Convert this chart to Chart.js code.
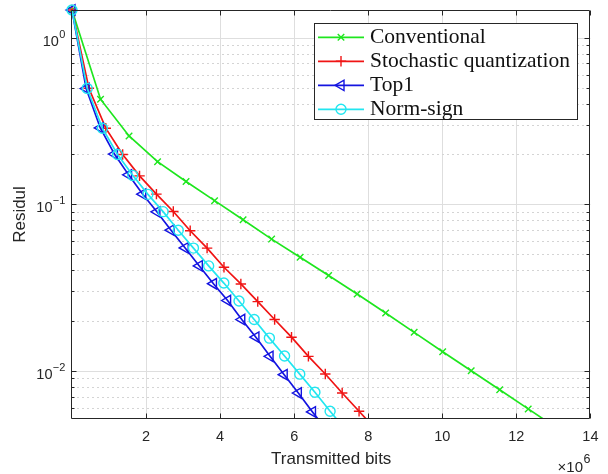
<!DOCTYPE html>
<html><head><meta charset="utf-8">
<script src="https://cdn.jsdelivr.net/npm/chart.js@4.4.1/dist/chart.umd.min.js"></script>
<style>html,body{margin:0;padding:0;background:#fff;}canvas{display:block;}</style>
</head><body>
<canvas id="c" width="608" height="474"></canvas>
<script>
// ---- data (x in units of 10^6 transmitted bits) ----
const seriesNames = ['Conventional', 'Stochastic quantization', 'Top1', 'Norm-sign'];

const conventionalX = [0, 0.77, 1.54, 2.31, 3.08, 3.85, 4.62, 5.39, 6.16, 6.93, 7.70, 8.47, 9.24, 10.01, 10.78, 11.55, 12.32, 13.09];
const conventionalY = [1.466, 0.427, 0.257, 0.180, 0.137, 0.105, 0.0806, 0.0617, 0.0480, 0.0373, 0.0289, 0.0222, 0.0170, 0.0130, 0.0100, 0.00769, 0.0059, 0.00453];

const stochasticX = [0, 0.456, 0.912, 1.368, 1.824, 2.28, 2.736, 3.192, 3.648, 4.104, 4.56, 5.016, 5.472, 5.928, 6.384, 6.84, 7.296, 7.752, 8.208];
const stochasticY = [1.466, 0.497, 0.286, 0.199, 0.148, 0.1150, 0.0904, 0.0693, 0.0545, 0.0418, 0.0332, 0.0260, 0.0203, 0.0159, 0.0122, 0.00956, 0.00735, 0.00571, 0.00443];

const top1X = [0, 0.382, 0.764, 1.146, 1.528, 1.91, 2.292, 2.674, 3.056, 3.438, 3.82, 4.202, 4.584, 4.966, 5.348, 5.73, 6.112, 6.494, 6.876];
const top1Y = [1.466, 0.495, 0.287, 0.200, 0.150, 0.1148, 0.0900, 0.0698, 0.0546, 0.0426, 0.0333, 0.0264, 0.0203, 0.0159, 0.0122, 0.00947, 0.00735, 0.00566, 0.00440];

const normSignX = [0, 0.41, 0.82, 1.23, 1.64, 2.05, 2.46, 2.87, 3.28, 3.69, 4.1, 4.51, 4.92, 5.33, 5.74, 6.15, 6.56, 6.97, 7.38];
const normSignY = [1.466, 0.496, 0.286, 0.199, 0.149, 0.1146, 0.0902, 0.0697, 0.0545, 0.0426, 0.0336, 0.0262, 0.0203, 0.0157, 0.01225, 0.00954, 0.00743, 0.00571, 0.00444];

const xTickValues = [2, 4, 6, 8, 10, 12, 14];
const yDecadeValues = [1, 0.1, 0.01];
const yDecadeExponents = ['0', '\u22121', '\u22122'];
const yMinorValues = [0.006, 0.007, 0.008, 0.009, 0.02, 0.03, 0.04, 0.05, 0.06, 0.07, 0.08, 0.09,
                      0.2, 0.3, 0.4, 0.5, 0.6, 0.7, 0.8, 0.9];
const xRange = [0, 14];
const yRange = [0.00513, 1.466];
const xTitle = 'Transmitted bits';
const yTitle = 'Residul';
const xScaleBase = '\u00d710';
const xScaleExp = '6';

// ---- styles ----
const SANS = '"Liberation Sans", Arial, Helvetica, sans-serif';
const SERIF = '"Liberation Serif", "Times New Roman", serif';
const AX = '#262626';
const styles = [
  {color: '#1ee61e', pointStyle: 'crossRot', radius: 4.6, rotation: 0},
  {color: '#f01414', pointStyle: 'cross', radius: 5.2, rotation: 0},
  {color: '#1414e0', pointStyle: 'triangle', radius: 6, rotation: -90},
  {color: '#22e6f0', pointStyle: 'circle', radius: 5, rotation: 0}
];
const series = [
  [conventionalX, conventionalY],
  [stochasticX, stochasticY],
  [top1X, top1Y],
  [normSignX, normSignY]
];

const datasets = series.map((s, i) => ({
  label: seriesNames[i],
  data: s[0].map((x, j) => ({x: x, y: s[1][j]})),
  borderColor: styles[i].color,
  backgroundColor: 'rgba(0,0,0,0)',
  pointBorderColor: styles[i].color,
  pointBackgroundColor: 'rgba(0,0,0,0)',
  pointStyle: styles[i].pointStyle,
  pointRadius: styles[i].radius,
  pointRotation: styles[i].rotation,
  pointBorderWidth: 1.4,
  borderWidth: 1.7,
  tension: 0,
  order: 4 - i,
  clip: {left: 10, top: 10, right: 0, bottom: 0}
}));

function drawMarker(ctx, st, x, y) {
  ctx.save();
  ctx.strokeStyle = st.color; ctx.lineWidth = 1.4; ctx.setLineDash([]);
  const r = st.radius;
  ctx.beginPath();
  if (st.pointStyle === 'crossRot') {
    const d = r * Math.SQRT1_2;
    ctx.moveTo(x - d, y - d); ctx.lineTo(x + d, y + d);
    ctx.moveTo(x - d, y + d); ctx.lineTo(x + d, y - d);
  } else if (st.pointStyle === 'cross') {
    ctx.moveTo(x, y - r); ctx.lineTo(x, y + r);
    ctx.moveTo(x - r, y); ctx.lineTo(x + r, y);
  } else if (st.pointStyle === 'triangle') {
    let rad = st.rotation * Math.PI / 180;
    for (let k = 0; k < 3; k++) {
      const px = x + Math.sin(rad) * r, py = y - Math.cos(rad) * r;
      if (k === 0) ctx.moveTo(px, py); else ctx.lineTo(px, py);
      rad += 2 * Math.PI / 3;
    }
    ctx.closePath();
  } else {
    ctx.arc(x, y, r, 0, Math.PI * 2);
  }
  ctx.stroke();
  ctx.restore();
}

const matlabAxes = {
  id: 'matlabAxes',
  beforeDatasetsDraw(chart) {
    const {ctx, chartArea: a, scales: {y}} = chart;
    ctx.save();
    ctx.lineWidth = 1;
    ctx.strokeStyle = '#d4d4d4';
    ctx.setLineDash([2, 3]);
    yMinorValues.forEach(v => {
      const py = Math.round(y.getPixelForValue(v)) + 0.5;
      ctx.beginPath(); ctx.moveTo(a.left, py); ctx.lineTo(a.right, py); ctx.stroke();
    });
    ctx.setLineDash([]);
    ctx.strokeStyle = '#dedede';
    yDecadeValues.forEach(v => {
      const py = Math.round(y.getPixelForValue(v)) + 0.5;
      ctx.beginPath(); ctx.moveTo(a.left, py); ctx.lineTo(a.right, py); ctx.stroke();
    });
    ctx.restore();
  },
  afterDatasetsDraw(chart) {
    const {ctx, chartArea: a, scales: {x, y}} = chart;
    ctx.save();
    ctx.setLineDash([]);
    ctx.strokeStyle = AX; ctx.lineWidth = 1;
    const L = Math.round(a.left) - 0.5, R = Math.round(a.right) - 0.5;
    const T = Math.round(a.top) + 0.5, B = Math.round(a.bottom) - 0.5;
    ctx.beginPath(); ctx.rect(L, T, R - L, B - T); ctx.stroke();
    // ticks (inside)
    ctx.beginPath();
    xTickValues.forEach(v => {
      const px = Math.round(x.getPixelForValue(v)) + 0.5;
      ctx.moveTo(px, B); ctx.lineTo(px, B - 5);
      ctx.moveTo(px, T); ctx.lineTo(px, T + 5);
    });
    yDecadeValues.forEach(v => {
      const py = Math.round(y.getPixelForValue(v)) + 0.5;
      ctx.moveTo(L, py); ctx.lineTo(L + 5, py);
      ctx.moveTo(R, py); ctx.lineTo(R - 5, py);
    });
    yMinorValues.forEach(v => {
      const py = Math.round(y.getPixelForValue(v)) + 0.5;
      ctx.moveTo(L, py); ctx.lineTo(L + 3, py);
      ctx.moveTo(R, py); ctx.lineTo(R - 3, py);
    });
    ctx.stroke();
    // y tick labels 10^k
    ctx.fillStyle = AX; ctx.textAlign = 'left'; ctx.textBaseline = 'alphabetic';
    const bigF = '14.5px ' + SANS, supF = '11px ' + SANS;
    yDecadeValues.forEach((v, i) => {
      const py = y.getPixelForValue(v);
      ctx.font = bigF; const w1 = ctx.measureText('10').width;
      ctx.font = supF; const w2 = ctx.measureText(yDecadeExponents[i]).width;
      const x0 = 65 - w1 - w2;
      ctx.font = bigF; ctx.fillText('10', x0, py + 8.2);
      ctx.font = supF; ctx.fillText(yDecadeExponents[i], x0 + w1 + 0.3, py + 0.3);
    });
    // x10^6 multiplier
    ctx.font = '12.5px ' + SANS;
    const we = ctx.measureText(xScaleExp).width;
    const ex = a.right - we;
    ctx.fillText(xScaleExp, ex, 462.6);
    ctx.font = '15px ' + SANS;
    const wb = ctx.measureText(xScaleBase).width;
    ctx.fillText(xScaleBase, ex - wb - 0.5, 472);

    // legend
    const bx = 314.5, by = 23.5, bw = 263, bh = 96;
    ctx.fillStyle = '#ffffff';
    ctx.fillRect(bx, by, bw, bh);
    ctx.strokeStyle = AX; ctx.lineWidth = 1;
    ctx.strokeRect(bx, by, bw, bh);
    seriesNames.forEach((name, i) => {
      const ry = 37.3 + i * 24;
      ctx.strokeStyle = styles[i].color; ctx.lineWidth = 1.7;
      ctx.beginPath(); ctx.moveTo(318, ry); ctx.lineTo(364, ry); ctx.stroke();
      drawMarker(ctx, styles[i], 341, ry);
      ctx.fillStyle = '#111111';
      ctx.font = '21.5px ' + SERIF;
      ctx.textBaseline = 'middle';
      ctx.fillText(name, 370, ry);
    });
    ctx.restore();
  }
};

new Chart(document.getElementById('c'), {
  type: 'line',
  data: {datasets: datasets},
  options: {
    responsive: false,
    animation: false,
    events: [],
    layout: {padding: {top: 10, right: 17, bottom: 0, left: 0}},
    plugins: {legend: {display: false}, tooltip: {enabled: false}},
    scales: {
      x: {
        type: 'linear', position: 'bottom', min: xRange[0], max: xRange[1],
        afterFit(s) { s.height = 55; },
        grid: {
          drawTicks: false, lineWidth: 1,
          color: c => (c.tick && c.tick.value > xRange[0] && c.tick.value < xRange[1]) ? '#dedede' : 'rgba(0,0,0,0)'
        },
        border: {display: false},
        ticks: {
          stepSize: 2, autoSkip: false, maxRotation: 0, padding: 9.5,
          callback: v => (v === 0 ? '' : String(v)),
          font: {family: SANS, size: 14.5}, color: AX
        },
        title: {display: true, text: xTitle, font: {family: SANS, size: 17}, color: AX, padding: {top: 0, bottom: 4}}
      },
      y: {
        type: 'logarithmic', position: 'left', min: yRange[0], max: yRange[1],
        afterFit(s) { s.width = 72; },
        grid: {display: false},
        border: {display: false},
        ticks: {display: false},
        title: {display: true, text: yTitle, font: {family: SANS, size: 17}, color: AX, padding: {top: 10, bottom: 0}}
      }
    }
  },
  plugins: [matlabAxes]
});
</script>
</body></html>
